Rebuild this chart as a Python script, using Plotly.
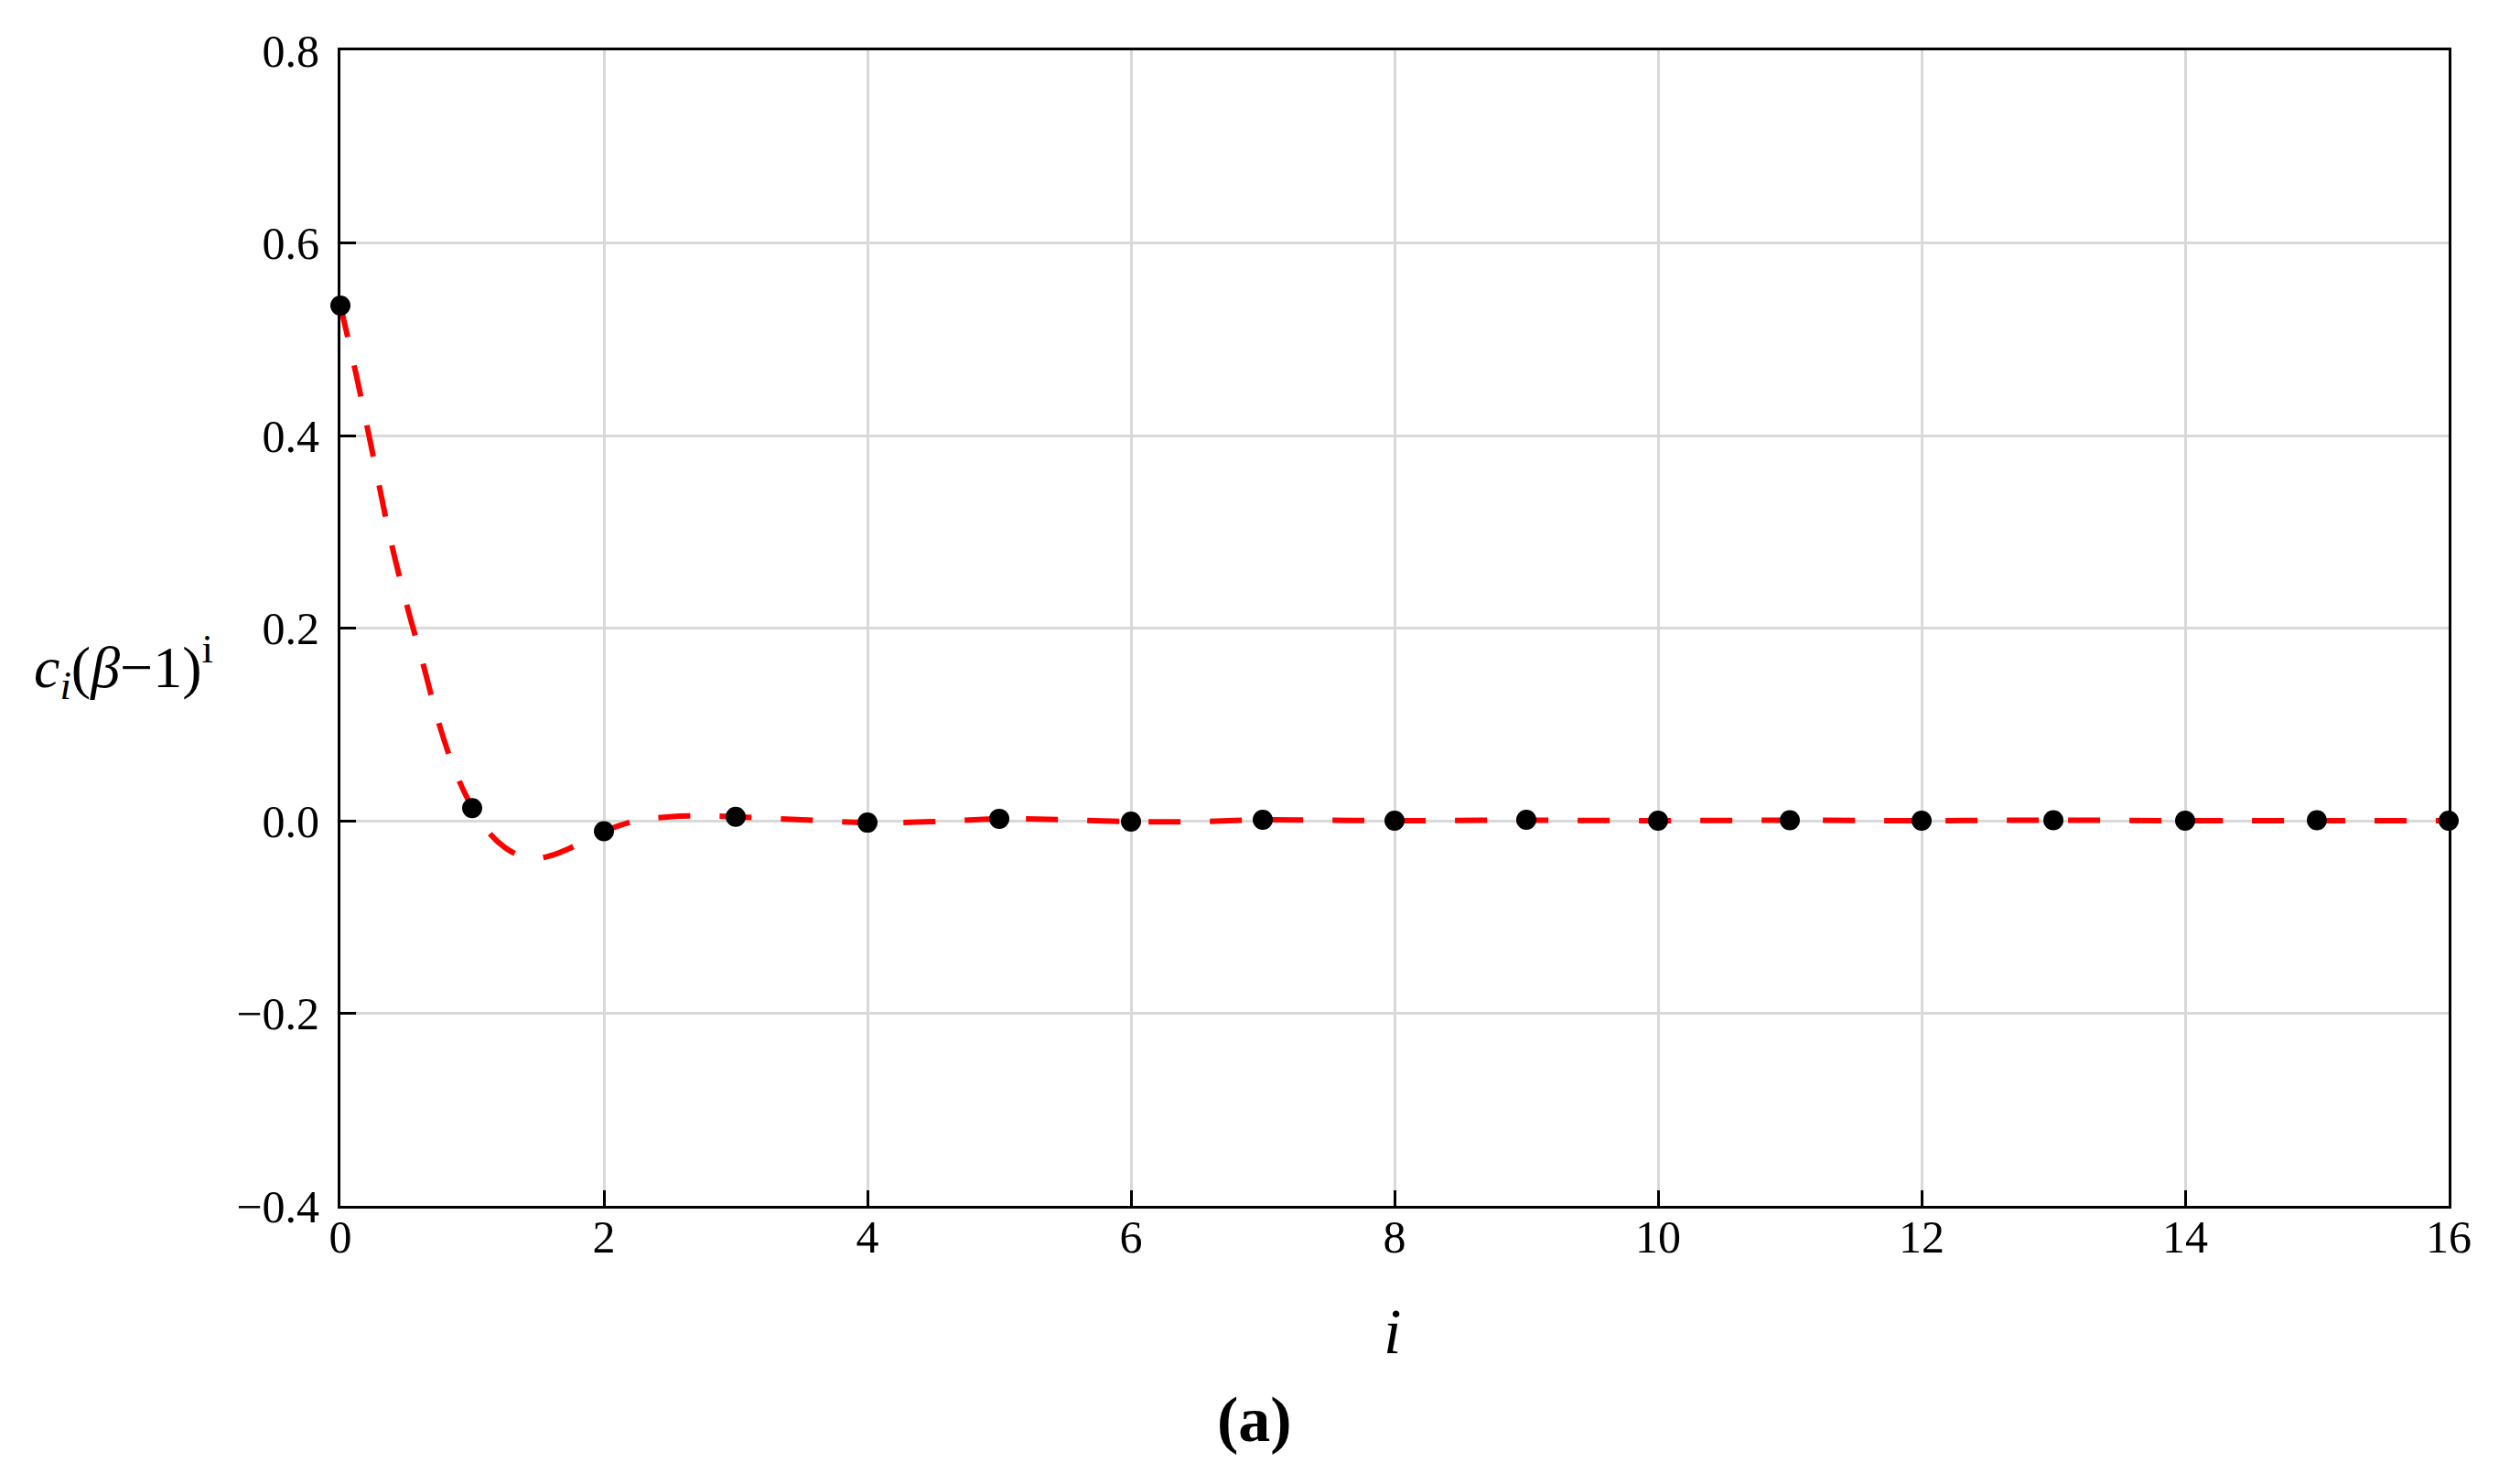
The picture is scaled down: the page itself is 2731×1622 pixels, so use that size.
import plotly.graph_objects as go

# coefficient values at each index i (black dots)
idx = list(range(17))
coef = [0.535, 0.013, -0.011, 0.004, -0.002, 0.002, -0.001, 0.001, 0.0,
        0.001, 0.0, 0.0005, 0.0, 0.0005, 0.0, 0.0005, 0.0]

# dashed red fit curve
curve_x = [0, 0.125, 0.25, 0.375, 0.5, 0.625, 0.75, 0.875, 1.0, 1.125, 1.25,
           1.375, 1.5, 1.625, 1.75, 1.875, 2.0, 2.25, 2.5, 2.75, 3.0, 3.5,
           4.0, 4.5, 5.0, 5.5, 6.0, 6.5, 7.0, 7.5, 8.0, 9.0, 10.0, 11.0,
           12.0, 13.0, 14.0, 15.0, 16.0]
curve_y = [0.535, 0.46, 0.378, 0.295, 0.226, 0.164, 0.10, 0.05, 0.014, -0.012,
           -0.028, -0.037, -0.039, -0.035, -0.028, -0.019, -0.011, 0.0, 0.004,
           0.005, 0.004, 0.001, -0.002, -0.001, 0.002, 0.001, -0.001, -0.001,
           0.001, 0.0005, 0.0, 0.0005, 0.0, 0.0005, 0.0, 0.0005, 0.0, 0.0, 0.0]

x_ticks = list(range(0, 17, 2))
y_ticks = [-0.4, -0.2, 0.0, 0.2, 0.4, 0.6, 0.8]

serif = "Liberation Serif, Times New Roman, serif"

fig = go.Figure()

fig.add_trace(go.Scatter(
    x=curve_x, y=curve_y, mode='lines',
    line=dict(color='#ff0000', width=6, dash='35px,32px', shape='spline'),
    showlegend=False,
))

fig.add_trace(go.Scatter(
    x=idx, y=coef, mode='markers',
    marker=dict(color='black', size=22),
    showlegend=False, cliponaxis=False,
))

axis_common = dict(
    showline=True, linecolor='black', linewidth=3, mirror=True,
    showgrid=True, gridcolor='#d9d9d9', gridwidth=2.5, zeroline=False,
    ticks='inside', ticklen=17, tickwidth=3, tickcolor='black',
    tickfont=dict(family=serif, size=50, color='black'),
)

fig.update_xaxes(range=[0, 16], tickvals=x_ticks, ticklabelstandoff=-12, **axis_common)
fig.update_yaxes(range=[-0.4, 0.8], tickvals=y_ticks, tickformat='.1f',
                 ticklabelstandoff=10, **axis_common)

# axis titles and panel label
fig.add_annotation(
    text="<i>c</i><sub><i>i</i></sub>(<i>β</i>−1)<sup>i</sup>",
    xref='paper', yref='paper', x=-0.103, y=0.466,
    xanchor='center', yanchor='middle', showarrow=False,
    font=dict(family=serif, size=64, color='black'),
)
fig.add_annotation(
    text="<i>i</i>", xref='paper', yref='paper', x=0.4987, y=-0.109,
    xanchor='center', yanchor='middle', showarrow=False,
    font=dict(family=serif, size=70, color='black'),
)
fig.add_annotation(
    text="<b>(a)</b>", xref='paper', yref='paper', x=0.4336, y=-0.1845,
    xanchor='center', yanchor='middle', showarrow=False,
    font=dict(family=serif, size=70, color='black'),
)

fig.update_layout(
    width=2731, height=1622,
    margin=dict(l=364, r=63, t=47, b=312),
    plot_bgcolor='white', paper_bgcolor='white',
)

fig.write_html("out.html")
